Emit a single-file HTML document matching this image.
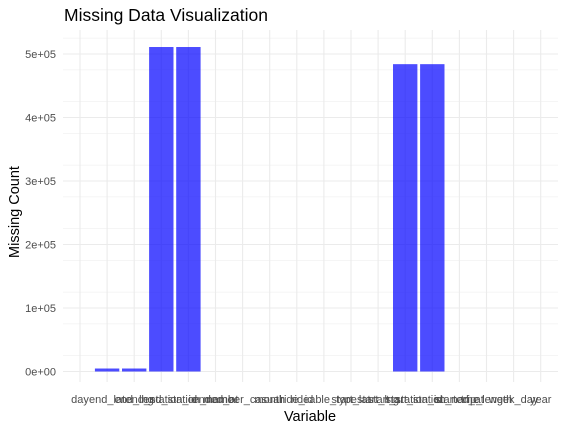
<!DOCTYPE html>
<html><head><meta charset="utf-8"><style>
body{margin:0;background:#fff;font-family:"Liberation Sans",sans-serif}
</style></head><body>
<svg id="chart" width="566" height="430">
<text x="64" y="21" font-size="17.5" fill="#000">Missing Data Visualization</text>
<g id="grid"></g><g id="bars"></g><g id="axes"></g>
<text x="310" y="421" font-size="14.5" text-anchor="middle" fill="#000">Variable</text>
<text transform="translate(19,212) rotate(-90)" font-size="14.5" text-anchor="middle" fill="#000">Missing Count</text>
</svg>
<script>
const categories=["day","end_lat","end_lng","end_station_id","end_station_name","ended_at","member_casual","month","ride_id","rideable_type","start_lat","start_lng","start_station_id","start_station_name","started_at","trip_length","week_day","year"];
const values=[0,4700,4700,511000,511000,0,0,0,0,0,0,0,484000,484000,0,0,0,0];
const yTicks=[0,100000,200000,300000,400000,500000];
const yTickLabels=["0e+00","1e+05","2e+05","3e+05","4e+05","5e+05"];
const NS="http://www.w3.org/2000/svg";
const step=27.1, x0=80;
const xs=i=>x0+i*step;
const ys=v=>371.5-v*(317.5/500000);
const pLeft=63, pRight=558, pTop=30, pBottom=382;
function mk(tag,attrs,parent){const e=document.createElementNS(NS,tag);for(const k in attrs)e.setAttribute(k,attrs[k]);document.getElementById(parent).appendChild(e);return e;}
for(let v=-25000;v<=550000;v+=50000){const y=ys(v);if(y<pTop||y>pBottom)continue;
 const l=mk("line",{x1:pLeft,x2:pRight,y1:y,y2:y,stroke:"#ebebeb","stroke-width":0.6},"grid");
 
 }
yTicks.forEach((v,i)=>{const y=ys(v);
 const l=mk("line",{x1:pLeft,x2:pRight,y1:y,y2:y,stroke:"#ebebeb","stroke-width":1.1},"grid");
 
 
 const t=mk("text",{x:56,y:y+4,"font-size":11,"text-anchor":"end",fill:"#4d4d4d"},"axes");t.textContent=yTickLabels[i];
 
 });
categories.forEach((c,i)=>{const x=xs(i);
 const l=mk("line",{x1:x,x2:x,y1:pTop,y2:pBottom,stroke:"#ebebeb","stroke-width":1.1},"grid");
 
 
 const bw=step*0.9;
 if(values[i]>0){const b=mk("rect",{x:x-bw/2,y:ys(values[i]),width:bw,height:ys(0)-ys(values[i]),fill:"rgba(0,0,255,0.7)"},"bars");
 
 }
 const t=mk("text",{x:x,y:403,"font-size":11,"text-anchor":"middle",fill:"#4d4d4d"},"axes");t.textContent=c;
 
 });
</script>
</body></html>
